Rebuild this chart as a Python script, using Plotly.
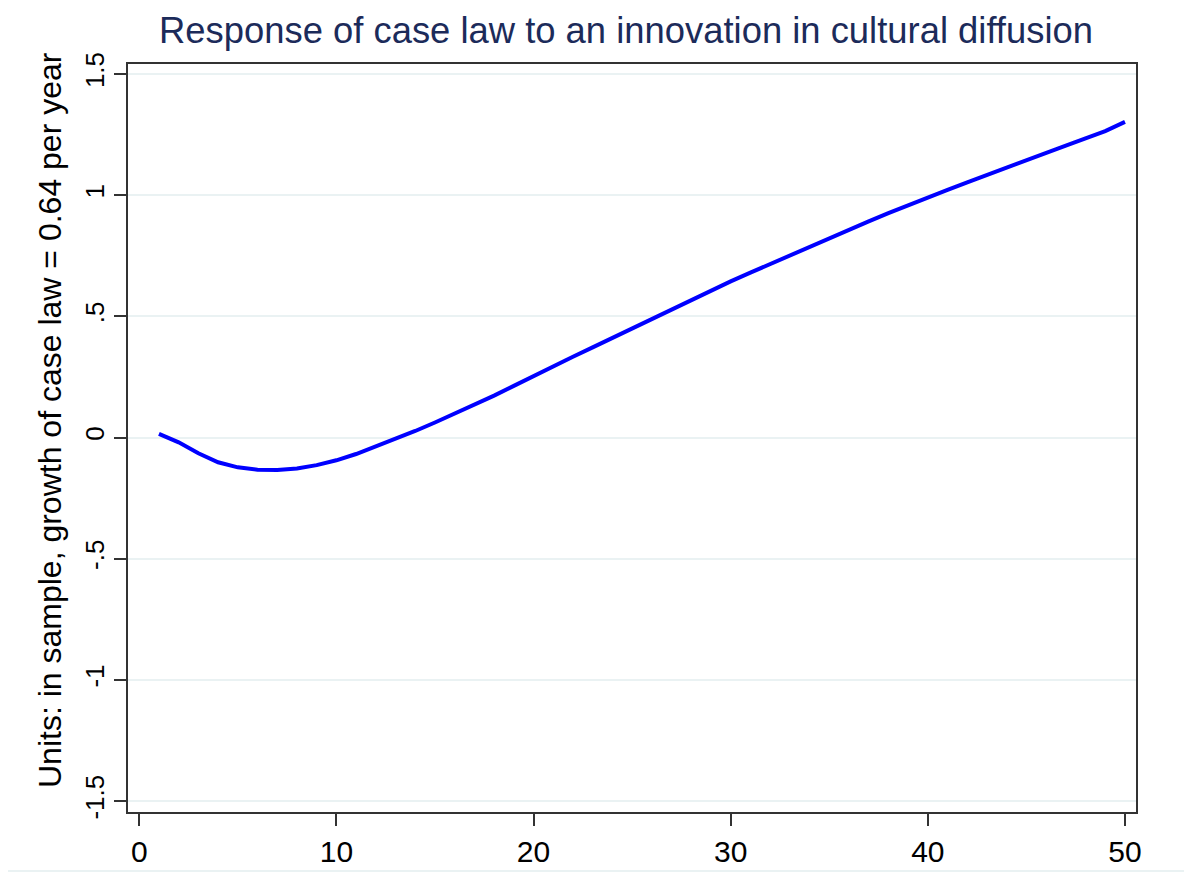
import plotly.graph_objects as go

horizon = list(range(1, 51))
response = [0.015, -0.020, -0.065, -0.102, -0.123, -0.133, -0.134, -0.128, -0.114, -0.094,
            -0.068, -0.037, -0.006, 0.027, 0.062, 0.098, 0.135, 0.173, 0.213, 0.254,
            0.294, 0.333, 0.372, 0.411, 0.451, 0.491, 0.530, 0.568, 0.606, 0.644,
            0.680, 0.716, 0.752, 0.788, 0.823, 0.858, 0.892, 0.926, 0.959, 0.991,
            1.022, 1.053, 1.084, 1.114, 1.144, 1.174, 1.204, 1.234, 1.264, 1.302]

xticks = [0, 10, 20, 30, 40, 50]
yticks = [-1.5, -1, -0.5, 0, 0.5, 1, 1.5]
yticklabels = ["-1.5", "-1", "-.5", "0", ".5", "1", "1.5"]

title_text = "Response of case law to an innovation in cultural diffusion"
ytitle_text = "Units: in sample, growth of case law = 0.64 per year"

FONT = "Liberation Sans, Arial, sans-serif"

# page body has an 8px margin, so the figure is drawn 8px right/down
OFF = 8
W, H = 1192 - OFF, 875 - OFF
L, T, R, B = 128 - OFF, 64 - OFF, 1136, 812
ml, mt = L, T
mr = W - (R - OFF)
mb = H - (B - OFF)
pw = W - ml - mr
ph = H - mt - mb

fig = go.Figure()
fig.add_trace(go.Scatter(x=horizon, y=response, mode="lines",
                         line=dict(color="#0000ff", width=4), showlegend=False))

fig.update_layout(
    width=W, height=H,
    paper_bgcolor="white", plot_bgcolor="white",
    margin=dict(l=ml, r=mr, t=mt, b=mb, autoexpand=False),
    font=dict(family=FONT, color="black"),
    title=dict(text=title_text, x=(626 - OFF) / W, xanchor="center",
               y=1 - (30 - OFF) / H, yanchor="middle",
               font=dict(size=36.4, color="#1c2b5a", family=FONT)),
)
fig.update_xaxes(range=[-0.57, 50.56], tickvals=xticks, ticks="outside", ticklen=12,
                 tickwidth=1.5, tickcolor="#333333", showline=True, linecolor="#333333",
                 linewidth=2, mirror=True, showgrid=False, zeroline=False,
                 tickfont=dict(size=30, color="black"))
fig.update_yaxes(range=[-1.545, 1.541], tickvals=yticks, ticktext=yticklabels,
                 ticks="outside", ticklen=12, tickwidth=1.5, tickcolor="#333333",
                 showline=True, linecolor="#333333", linewidth=2, mirror=True,
                 showgrid=True, gridcolor="#eaf2f3", gridwidth=2, zeroline=False,
                 tickangle=-90, tickfont=dict(size=26, color="black"))

fig.add_annotation(text=ytitle_text, xref="paper", yref="paper",
                   x=(50 - 128) / pw, y=(812 - 420) / ph, xanchor="center", yanchor="middle",
                   textangle=-90, showarrow=False, font=dict(size=32, color="black", family=FONT))

fig.add_shape(type="rect", xref="paper", yref="paper",
              x0=(3 - 128) / pw, x1=(1189 - 128) / pw,
              y0=(812 - 871) / ph, y1=(812 - 3) / ph,
              line=dict(color="#eaf2f3", width=2), fillcolor="rgba(0,0,0,0)", layer="below")

fig.write_html("out.html")
